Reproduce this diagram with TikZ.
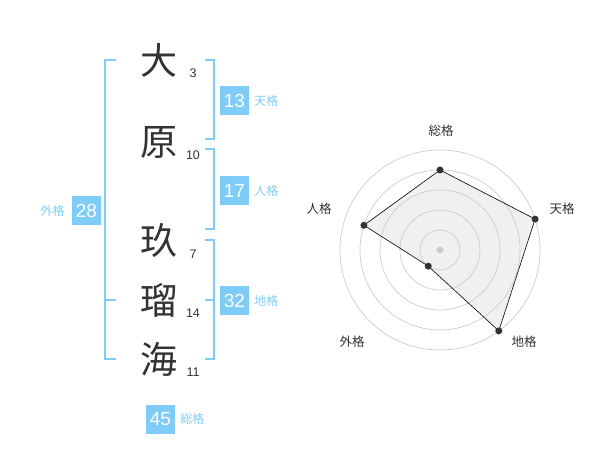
\documentclass[tikz,border=0pt]{standalone}
\usepackage{fontspec}
\setmainfont{Liberation Sans}
\newfontfamily\jpfont{Noto Sans CJK JP}
\usetikzlibrary{positioning}
\definecolor{kakublue}{HTML}{80CCF8}
\definecolor{inkgray}{HTML}{333333}
\tikzset{
    kanji/.style={font=\jpfont\fontsize{37}{37}\selectfont,text=inkgray,inner sep=0pt},
    strokes/.style={font=\fontsize{12.5}{12.5}\selectfont,text=inkgray,inner sep=0pt},
    kakubox/.style={fill=kakublue,text=white,minimum size=29pt,inner sep=0pt,font=\fontsize{19}{19}\selectfont},
    kakulabel/.style={font=\jpfont\fontsize{12}{12}\selectfont,text=kakublue,inner sep=0pt},
    bracket/.style={draw=kakublue,line width=2pt},
    ring/.style={draw=black!20,line width=0.7pt},
    radarlabel/.style={font=\jpfont\fontsize{12.5}{12.5}\selectfont,text=inkgray,inner sep=0pt},
    dot/.style={circle,fill=inkgray,inner sep=0pt,minimum size=7pt}
}

\begin{document}
\begin{tikzpicture}[x=1pt,y=-1pt]
        \useasboundingbox (0,0) rectangle (600,470);

        % Characters with stroke counts
        \foreach \y/\ch/\n/\id in {
            60/大/3/k1, 142/原/10/k2, 241/玖/7/k3, 300/瑠/14/k4, 359/海/11/k5
        } {
            \node[kanji] (\id) at (159,\y) {\ch};
            \node[strokes] (\id-n) at (193,\y+13) {\n};
        }

        % Brackets
        \coordinate (gai-a) at (116,60);
        \coordinate (gai-b) at (116,359);
        \coordinate (gai-m) at (116,300);
        \draw[bracket] (gai-a) -| (105,359) -- (gai-b);
        \draw[bracket] (105,300) -- (gai-m);
        \foreach \ya/\yb/\id in {60/139/ten, 149/229/jin, 240/359/chi} {
            \coordinate (\id-a) at (205,\ya);
            \coordinate (\id-b) at (205,\yb);
            \draw[bracket] (\id-a) -| (214,\yb) -- (\id-b);
        }
        \coordinate (chi-m) at (205,300);
        \draw[bracket] (chi-m) -- (214,300);

        % Totals
        \node[kakubox] (ten) at (234.5,100.5) {13};
        \node[kakulabel,right=5pt of ten] {天格};
        \node[kakubox] (jin) at (234.5,190.5) {17};
        \node[kakulabel,right=5pt of jin] {人格};
        \node[kakubox] (chi) at (234.5,300.5) {32};
        \node[kakulabel,right=5pt of chi] {地格};
        \node[kakubox] (gai) at (86.5,210.5) {28};
        \node[kakulabel,left=7pt of gai] {外格};
        \node[kakubox] (sou) at (160.5,419) {45};
        \node[kakulabel,right=5pt of sou] {総格};

        % Radar chart
        \begin{scope}[shift={(440,250)}]
            \foreach \ang/\val/\id/\txt/\lx/\ly in {
                -90/4/sou/総格/1/-119, -18/5/ten/天格/122/-41, 54/5/chi/地格/84/92,
                126/1/gai/外格/-88/92, 198/4/jin/人格/-121/-41
            } {
                \coordinate (p-\id) at (\ang:\val*20);
                \node[radarlabel] (l-\id) at (\lx,\ly) {\txt};
            }
            \fill[black!6] (p-sou) -- (p-ten) -- (p-chi) -- (p-gai) -- (p-jin) -- cycle;
            \foreach \r in {20,40,...,100}
                \draw[ring] (0,0) circle[radius=\r];
            \fill[black!20] (0,0) circle[radius=3.5];
            \draw[line width=0.6pt] (p-sou) -- (p-ten) -- (p-chi) -- (p-gai) -- (p-jin) -- cycle;
            \foreach \id in {sou,ten,chi,gai,jin}
                \node[dot] at (p-\id) {};
        \end{scope}
    \end{tikzpicture}
\end{document}
